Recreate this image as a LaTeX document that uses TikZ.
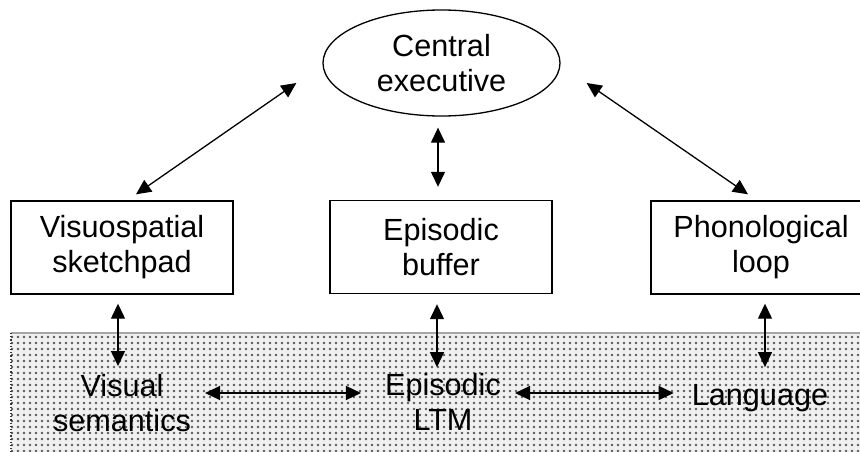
\documentclass[tikz,border=0pt]{standalone}
\usepackage{fontspec}
\setmainfont{Liberation Sans}
\usetikzlibrary{arrows.meta,shapes.geometric,patterns.meta,calc}
\begin{document}
\begin{tikzpicture}[x=1pt,y=-1pt,
  lbl/.style={align=center,font=\fontsize{30.6}{35}\selectfont,inner sep=0pt},
  boxnode/.style={lbl,draw,line width=1.4pt,minimum width=222pt,minimum height=93pt},
  arr/.style={{Triangle[length=15pt,width=14pt]}-{Triangle[length=15pt,width=14pt]},line width=1.3pt}]
\useasboundingbox (0,0) rectangle (860,451);
% shaded LTM band
\fill[gray!12] (11,333) rectangle (875,460);
\fill[pattern={Dots[distance=6pt,radius=1.35pt]},pattern color=black!65] (11,333) rectangle (875,460);
\draw[gray!70,line width=1.5pt] (11,333) -- (875,333);
\draw[black!80,line width=1.2pt,dotted] (11,333) -- (11,460);
% nodes
\node[lbl,draw,ellipse,line width=1.3pt,minimum width=237pt,minimum height=106pt] (ce) at (441.5,63) {Central\\executive};
\node[boxnode] (vs) at (122,247.5) {Visuospatial\\sketchpad};
\node[boxnode] (eb) at (441,247) {Episodic\\buffer};
\node[boxnode,minimum width=220pt] (pl) at (761,247.5) {Phonological\\loop};
\node[lbl] (vsem) at (122,403) {Visual\\semantics};
\node[lbl] (eltm) at (443,402) {Episodic\\LTM};
\node[lbl] (lang) at (760,398) {Language};
% connectors
\draw[arr] ($(ce.west)+(-26,20)$) -- ($(vs.north)+(14,-6)$);
\draw[arr] ($(ce.east)+(26,20)$) -- ($(pl.north)+(-13,-6)$);
\draw[arr] ($(ce.south)+(-3.5,11)$) -- ($(eb.north)+(-3,-13)$);
\draw[arr] ($(vs.south)+(-4,9)$) -- ($(vsem.north)+(-4,-8)$);
\draw[arr] ($(eb.south)+(-4,10)$) -- ($(eltm.north)+(-6,-6)$);
\draw[arr] ($(pl.south)+(4,9)$) -- ($(lang.north)+(5,-17)$);
\draw[arr] ($(vsem.east)+(14,-10)$) -- ($(eltm.west)+(-24,-9)$);
\draw[arr] ($(eltm.east)+(14,-9)$) -- ($(lang.west)+(-18,-5)$);
\end{tikzpicture}
\end{document}
